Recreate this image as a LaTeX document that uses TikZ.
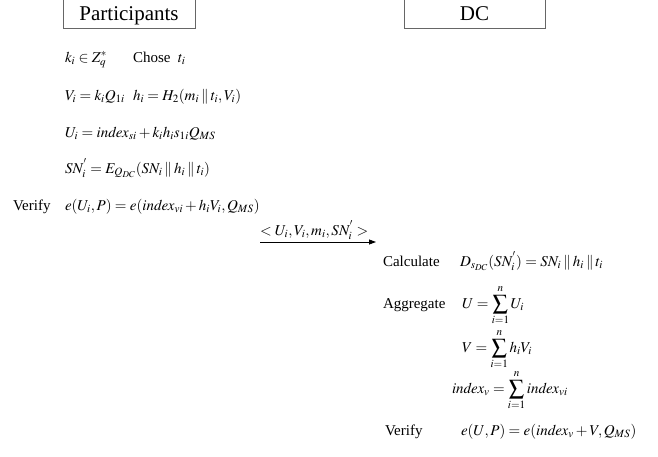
\documentclass[tikz,border=0pt]{standalone}
\usepackage{mathptmx}
\usepackage{fontspec}
\setmainfont{Liberation Serif}
\usetikzlibrary{arrows.meta}
\newcommand{\cat}{\mathbin{\|}}
\begin{document}
\begin{tikzpicture}[x=1pt,y=-1pt,
  every node/.style={font=\fontsize{15}{18}\selectfont, inner sep=0pt, outer sep=0pt},
  txt/.style={anchor=base west},
  party/.style={draw=black!60, line width=0.9pt, anchor=south, minimum width=132pt,
    text height=24pt, text depth=8pt, font=\fontsize{21}{24}\selectfont},
  msg/.style={-{Triangle[length=7pt,width=5pt]}, line width=0.8pt}]
\useasboundingbox (0,0) rectangle (658,456);
\node[party] (P) at (129,28) {Participants};
\node[party, minimum width=141pt] (DC) at (474.5,28) {DC};
% participant side
\node[txt] (r1a) at (65,62) {$k_i \in Z_q^{*}$};
\node[txt] (r1b) at (133,62) {Chose\ \ $t_i$};
\node[txt] (r2a) at (65,100) {$V_i = k_i Q_{1i}$};
\node[txt] (r2b) at (133,100) {$h_i = H_2(m_i \cat t_i, V_i)$};
\node[txt] (r3) at (65,137) {$U_i = \mathit{index}_{si} + k_i h_i s_{1i} Q_{MS}$};
\node[txt] (r4) at (65,173) {$SN_i^{'} = E_{Q_{DC}}(SN_i \cat h_i \cat t_i)$};
\node[txt] (r5a) at (13,210) {Verify};
\node[txt] (r5b) at (65,210) {$e(U_i, P) = e(\mathit{index}_{vi} + h_i V_i, Q_{MS})$};
% message
\coordinate (m1) at (260,242);
\coordinate (m2) at (376,242);
\draw[msg] (m1) -- (m2);
\node[txt] (lab) at (260,235) {$<U_i, V_i, m_i, SN_i^{'}>$};
% DC side
\node[txt] (c1a) at (383,266) {Calculate};
\node[txt] (c1b) at (460,266) {$D_{s_{DC}}(SN_i^{'}) = SN_i \cat h_i \cat t_i$};
\node[txt] (c2a) at (383,308) {Aggregate};
\node[txt] (c2b) at (462,308) {$\displaystyle U = \sum_{i=1}^{n} U_i$};
\node[txt] (c3) at (462,352) {$\displaystyle V = \sum_{i=1}^{n} h_i V_i$};
\node[txt] (c4) at (452,393) {$\displaystyle \mathit{index}_v = \sum_{i=1}^{n} \mathit{index}_{vi}$};
\node[txt] (c5a) at (385,435) {Verify};
\node[txt] (c5b) at (461,435) {$e(U, P) = e(\mathit{index}_v + V, Q_{MS})$};
\end{tikzpicture}
\end{document}
